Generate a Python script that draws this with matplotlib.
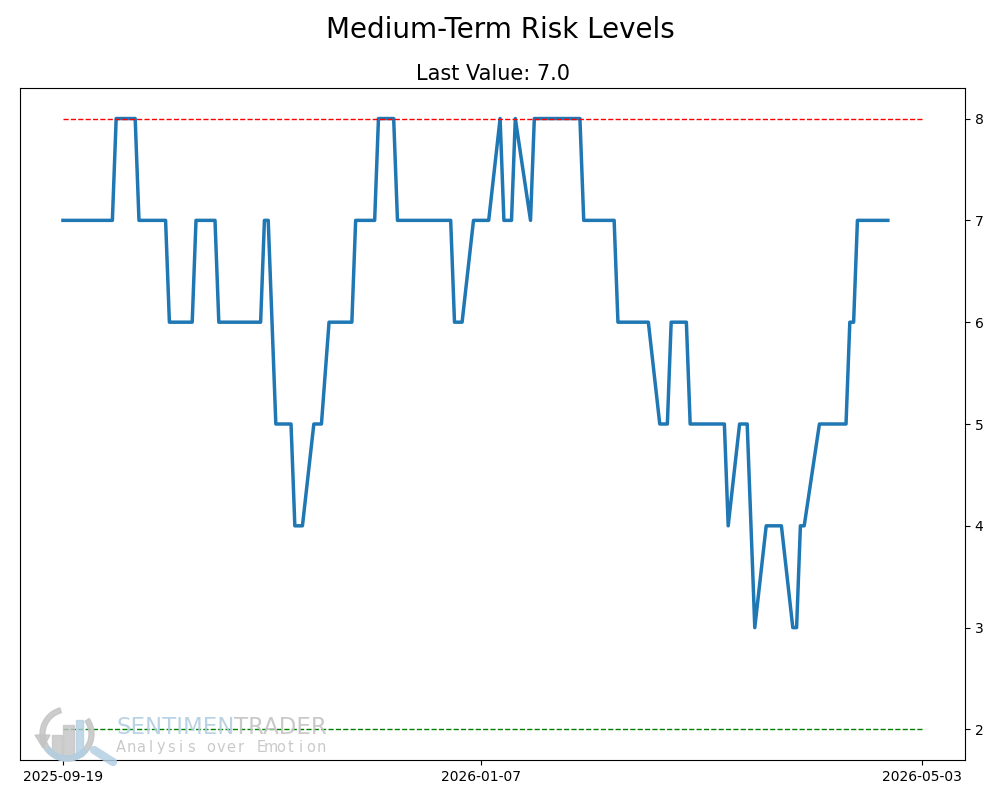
import numpy as np
import pandas as pd
import matplotlib
matplotlib.use("Agg")
import matplotlib.pyplot as plt
from matplotlib.patches import Rectangle, Wedge, Polygon
from matplotlib.lines import Line2D

# risk level vertices (trading days where the level changes / holds)
dates = ["2025-09-19", "2025-10-02", "2025-10-03", "2025-10-08", "2025-10-09",
         "2025-10-16", "2025-10-17", "2025-10-23", "2025-10-24", "2025-10-29",
         "2025-10-30", "2025-11-10", "2025-11-11", "2025-11-12", "2025-11-13",
         "2025-11-14", "2025-11-18", "2025-11-19", "2025-11-21", "2025-11-24",
         "2025-11-26", "2025-11-28", "2025-12-04", "2025-12-05", "2025-12-10",
         "2025-12-11", "2025-12-15", "2025-12-16", "2025-12-30", "2025-12-31",
         "2026-01-02", "2026-01-05", "2026-01-09", "2026-01-12", "2026-01-13",
         "2026-01-15", "2026-01-16", "2026-01-20", "2026-01-21", "2026-02-02",
         "2026-02-03", "2026-02-11", "2026-02-12", "2026-02-20", "2026-02-23",
         "2026-02-25", "2026-02-26", "2026-03-02", "2026-03-03", "2026-03-12",
         "2026-03-13", "2026-03-16", "2026-03-18", "2026-03-19", "2026-03-20",
         "2026-03-23", "2026-03-27", "2026-03-30", "2026-03-31", "2026-04-01",
         "2026-04-02", "2026-04-06", "2026-04-13", "2026-04-14", "2026-04-15",
         "2026-04-16", "2026-04-24"]
levels = [7, 7, 8, 8, 7,
          7, 6, 6, 7, 7,
          6, 6, 7, 7, 6,
          5, 5, 4, 4, 5,
          5, 6, 6, 7, 7,
          8, 8, 7, 7, 6,
          6, 7, 7, 8, 7,
          7, 8, 7, 8, 8,
          7, 7, 6, 6, 5,
          5, 6, 6, 5, 5,
          4, 5, 5, 4, 3,
          4, 4, 3, 3, 4,
          4, 5, 5, 6, 6,
          7, 7]

upper_level = 8
lower_level = 2
band_start = "2025-09-19"
band_end = "2026-05-03"
tick_dates = ["2025-09-19", "2026-01-07", "2026-05-03"]

dt = pd.to_datetime(dates)

fig = plt.figure(figsize=(10, 8), dpi=100)
ax = fig.add_axes([0.02, 0.05, 0.945, 0.84])

ax.plot(dt, levels, color="#1f77b4", lw=2.5)
ax.hlines(upper_level, pd.Timestamp(band_start), pd.Timestamp(band_end),
          colors="red", linestyles="--", lw=1)
ax.hlines(lower_level, pd.Timestamp(band_start), pd.Timestamp(band_end),
          colors="green", linestyles="--", lw=1)

ax.set_xticks(pd.to_datetime(tick_dates))
ax.set_xticklabels(tick_dates)
ax.yaxis.tick_right()
ax.set_yticks(range(2, 9))

fig.suptitle("Medium-Term Risk Levels", fontsize=20, y=0.98)
ax.set_title("Last Value: %.1f" % levels[-1], fontsize=15)

# watermark (rough SentimenTrader logo), placed in pixel units via inches
tr = fig.dpi_scale_trans
def px(x, y):
    return (x / 100.0, (800 - y) / 100.0)

grey = "#c4c4c4"
lblue = "#b3cfe2"
fig.add_artist(Wedge(px(67, 734), 0.27, 105, 395, width=0.05,
                     transform=tr, color=grey, alpha=0.85))
fig.add_artist(Polygon([px(35, 735), px(50, 735), px(43, 748)],
                       closed=True, transform=tr, color=grey, alpha=0.85))
fig.add_artist(Rectangle(px(52, 756), 0.10, 0.21, transform=tr, color=grey, alpha=0.8))
fig.add_artist(Rectangle(px(63, 756), 0.11, 0.31, transform=tr, color=grey, alpha=0.8))
fig.add_artist(Rectangle(px(76, 756), 0.07, 0.36, transform=tr, color=lblue, alpha=0.8))
fig.add_artist(Wedge(px(67, 734), 0.27, 215, 320, width=0.05,
                     transform=tr, color=lblue, alpha=0.8))
fig.add_artist(Line2D([0.94, 1.13], [(800 - 750) / 100.0, (800 - 762) / 100.0],
                      transform=tr, color=lblue, lw=6, alpha=0.85,
                      solid_capstyle="round"))

t1 = fig.text(116 / 1000, 1 - 727 / 800, "SENTIMEN", fontsize=16.5, color=lblue,
              va="center", ha="left", alpha=0.9)
fig.canvas.draw()
bb = t1.get_window_extent()
fig.text(bb.x1 / 1000, 1 - 727 / 800, "TRADER", fontsize=16.5, color=grey,
         va="center", ha="left", alpha=0.9)

tag = "Analysis over Emotion"
xs = np.linspace(121, 321, len(tag))
for ch, x in zip(tag, xs):
    fig.text(x / 1000, 1 - 747 / 800, ch, fontsize=10.5, color=grey,
             ha="center", va="center", alpha=0.9)

fig.savefig("out.png", dpi=100)
